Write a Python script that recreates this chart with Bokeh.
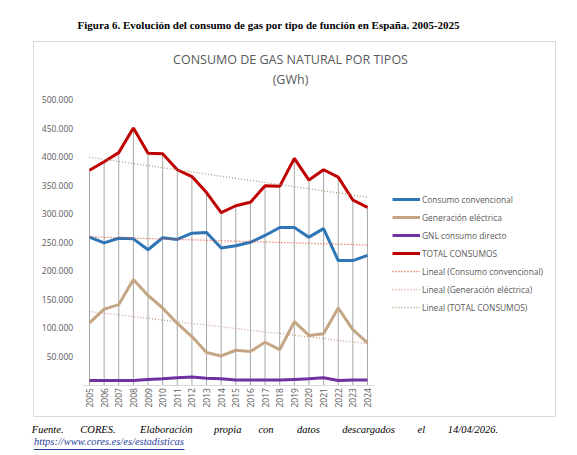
import numpy as np
from math import pi
from bokeh.plotting import figure
from bokeh.models import Label, Legend, LegendItem, FixedTicker, Range1d, LinearAxis
from bokeh.embed import file_html
from bokeh.resources import INLINE

# ---------------- data (GWh) ----------------
years = [str(y) for y in range(2005, 2025)]
consumo_convencional = [259000, 249000, 257000, 256000, 237000, 258000, 255000, 266000, 267000, 240000,
                        244000, 250000, 262000, 276000, 276000, 259000, 274000, 218000, 218000, 227000]
generacion_electrica = [109000, 133000, 141000, 185000, 157000, 135000, 108000, 85000, 57000, 51000,
                        61000, 59000, 75000, 62000, 111000, 87000, 90000, 135000, 97000, 74000]
gnl_consumo_directo = [8000, 8000, 8000, 8000, 10000, 11000, 13000, 14000, 12000, 11000,
                       9000, 9000, 9000, 9000, 10000, 11000, 13000, 8000, 9000, 9000]
total_consumos = [376000, 391000, 407000, 450000, 406000, 405000, 377000, 365000, 337000, 302000,
                  314000, 320000, 349000, 348000, 397000, 359000, 377000, 364000, 324000, 311000]
y_ticks = [0, 50000, 100000, 150000, 200000, 250000, 300000, 350000, 400000, 450000, 500000]
y_tick_labels = ["", "50.000", "100.000", "150.000", "200.000", "250.000", "300.000",
                 "350.000", "400.000", "450.000", "500.000"]

fig_title = "Figura 6. Evolución del consumo de gas por tipo de función en España. 2005-2025"
chart_title_1 = "CONSUMO DE GAS NATURAL POR TIPOS"
chart_title_2 = "(GWh)"
footer_words = ["Fuente.", "CORES.", "Elaboración", "propia", "con", "datos", "descargados", "el", "14/04/2026."]
footer_link = "https://www.cores.es/es/estadisticas"

# ---------------- layout (page pixel coordinates) ----------------
W, H = 577, 455
BOX_L, BOX_R, BOX_T, BOX_B = 33, 555, 41, 416      # chart box = plot frame
X0_PX, X_STEP = 89.0, 14.63                          # first category centre, category spacing
Y0_PX, Y_SCALE = 384.6, 285.6 / 500000               # y pixel of zero, px per unit

GRAY = "#595959"
FONT = "Open Sans"
SERIF = "Liberation Serif"

idx = list(range(len(years)))
x_range = Range1d((BOX_L - X0_PX) / X_STEP, (BOX_R - X0_PX) / X_STEP)
y_range = Range1d((Y0_PX - BOX_B) / Y_SCALE, (Y0_PX - BOX_T) / Y_SCALE)

p = figure(width=W, height=H, x_range=x_range, y_range=y_range,
           toolbar_location=None, output_backend="svg",
           min_border_left=BOX_L, min_border_right=W - BOX_R,
           min_border_top=BOX_T, min_border_bottom=H - BOX_B)
p.outline_line_color = "#d9d9d9"
p.outline_line_width = 1
p.xgrid.grid_line_color = None
p.ygrid.grid_line_color = None
p.background_fill_color = "white"
p.border_fill_color = "white"
p.extra_x_ranges = {"px": Range1d(BOX_L, BOX_R)}
p.extra_y_ranges = {"py": Range1d(BOX_B, BOX_T)}

# figure caption above the box
p.title.text = fig_title
p.title.align = "left"
p.title.offset = 77 - BOX_L
p.title.standoff = 22
p.title.text_font = SERIF
p.title.text_font_style = "bold"
p.title.text_font_size = "11px"
p.title.text_color = "black"

# y axis (drawn at the plot-area left edge)
ya = p.yaxis[0]
ya.fixed_location = -0.5
ya.ticker = FixedTicker(ticks=y_ticks)
ya.major_label_overrides = {t: l for t, l in zip(y_ticks, y_tick_labels)}
ya.axis_line_color = None
ya.major_tick_line_color = None
ya.minor_tick_line_color = None
ya.major_tick_in = 0
ya.major_tick_out = 0
ya.major_label_standoff = 9
ya.major_label_text_font = FONT
ya.major_label_text_font_size = "8.5px"
ya.major_label_text_color = GRAY

# x axis (drawn at zero)
xa = p.xaxis[0]
xa.fixed_location = 0
xa.bounds = (-0.5, len(years) - 0.5)
xa.ticker = FixedTicker(ticks=idx)
xa.major_label_overrides = {i: y for i, y in zip(idx, years)}
xa.axis_line_color = "#d9d9d9"
xa.major_tick_line_color = None
xa.minor_tick_line_color = None
xa.major_tick_in = 0
xa.major_tick_out = 0
xa.major_label_orientation = pi / 2
xa.major_label_standoff = 3
xa.major_label_text_font = FONT
xa.major_label_text_font_size = "8.5px"
xa.major_label_text_color = GRAY

# drop lines
p.segment(x0=idx, y0=[0] * len(idx), x1=idx, y1=total_consumos, line_color="#a6a6a6", line_width=1)

ix = np.arange(len(years))
def trend(vals):
    s, b = np.polyfit(ix, np.array(vals, dtype=float), 1)
    return list(b + s * ix)

r_conv = p.line(idx, consumo_convencional, line_color="#2e75b6", line_width=3)
r_gen = p.line(idx, generacion_electrica, line_color="#c4a584", line_width=3)
r_gnl = p.line(idx, gnl_consumo_directo, line_color="#7030a0", line_width=3)
r_tot = p.line(idx, total_consumos, line_color="#c00000", line_width=3)
r_tconv = p.line(idx, trend(consumo_convencional), line_color="#e0503a", line_width=1.3, line_dash="1 2")
r_tgen = p.line(idx, trend(generacion_electrica), line_color="#c8a08a", line_width=1.3, line_dash="1 2")
r_ttot = p.line(idx, trend(total_consumos), line_color="#b0967c", line_width=1.3, line_dash="1 2")

items = [
    LegendItem(label="Consumo convencional", renderers=[r_conv]),
    LegendItem(label="Generación eléctrica", renderers=[r_gen]),
    LegendItem(label="GNL consumo directo", renderers=[r_gnl]),
    LegendItem(label="TOTAL CONSUMOS", renderers=[r_tot]),
    LegendItem(label="Lineal (Consumo convencional)", renderers=[r_tconv]),
    LegendItem(label="Lineal (Generación eléctrica)", renderers=[r_tgen]),
    LegendItem(label="Lineal (TOTAL CONSUMOS)", renderers=[r_ttot]),
]
legend = Legend(items=items, location=(392 - BOX_L, BOX_B - 313), border_line_color=None,
                background_fill_alpha=0, padding=0, margin=0, spacing=6, glyph_width=28,
                glyph_height=12, label_height=12, label_standoff=2, label_text_font=FONT,
                label_text_font_size="8.4px", label_text_color=GRAY)
p.add_layout(legend, "center")

# chart titles (inside the box)
for txt, ty in [(chart_title_1, 59), (chart_title_2, 79)]:
    p.add_layout(Label(x=290, y=ty, x_range_name="px", y_range_name="py", text=txt,
                       text_font=FONT, text_font_size="12.5px", text_color=GRAY,
                       text_align="center", text_baseline="middle"))

def text_axis(ticks, labels, font_size, color, style, standoff=0, line_color=None, bounds=None):
    ax = LinearAxis(x_range_name="px", ticker=FixedTicker(ticks=ticks),
                    major_label_overrides={t: l for t, l in zip(ticks, labels)},
                    axis_line_color=line_color, major_tick_line_color=None, minor_tick_line_color=None,
                    major_tick_in=0, major_tick_out=0, major_label_standoff=standoff,
                    major_label_text_font=SERIF, major_label_text_font_size=font_size,
                    major_label_text_color=color, major_label_text_font_style=style)
    if bounds is not None:
        ax.bounds = bounds
    p.add_layout(ax, "below")

# source note below the box
footer_centres = [47.2, 97.5, 165.8, 227.2, 265.5, 308.0, 368.0, 420.8, 472.5]
text_axis(footer_centres, footer_words, "10.5px", "black", "italic", standoff=7)
text_axis([108.5], [footer_link], "10.5px", "#1f3e9a", "italic", standoff=-2)
text_axis([], [], "10.5px", "#1f3e9a", "italic", line_color="#1f3e9a", bounds=(33, 184))

open("out.html", "w").write(file_html(p, INLINE))
